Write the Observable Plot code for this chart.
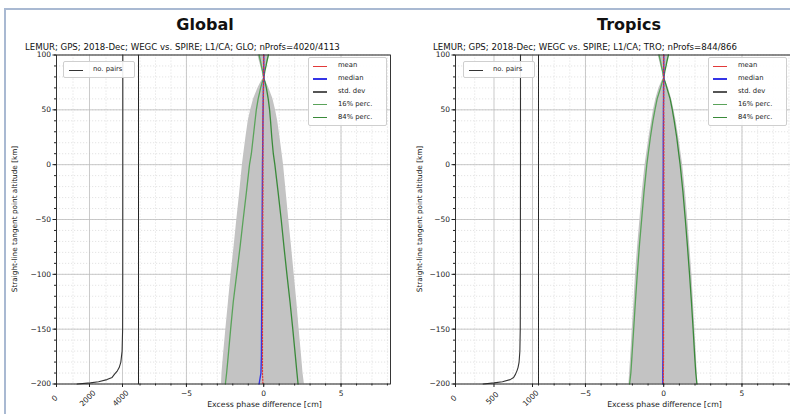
<!DOCTYPE html>
<html><head><meta charset="utf-8">
<script src="https://cdn.jsdelivr.net/npm/d3@7"></script>
<script src="https://cdn.jsdelivr.net/npm/@observablehq/plot@0.6"></script>
<style>
body{margin:0;background:#fff;}
#root{position:relative;width:790px;height:414px;overflow:hidden;background:#fff;font-family:"DejaVu Sans",sans-serif;color:#111;}
#root svg{position:absolute;left:0;top:0;}
.abs{position:absolute;white-space:nowrap;line-height:1;}
.title{font-weight:bold;font-size:16px;transform:translate(-50%,-50%);}
.sub{font-size:8.6px;transform:translateY(-50%);}
.ylab{font-size:7.3px;transform:translate(-50%,-50%) rotate(-90deg);}
.legend{background:rgba(255,255,255,0.9);border:1px solid #cfcfcf;border-radius:2px;}
.leg-row{position:absolute;left:0;right:0;height:10px;}
.leg-line{position:absolute;top:4.5px;height:1.3px;}
.leg-txt{position:absolute;font-size:6.8px;top:1px;color:#222;}
.frameBorder{position:absolute;left:4px;top:8px;right:-4px;bottom:-4px;border-left:2px solid #a9b9d2;border-top:2px solid #a9b9d2;}
</style></head><body><div id="root"><div class="frameBorder"></div></div>
<script>
// ---------- data ----------
const altitudes = [100, 95, 90, 85, 79, 75, 70, 60, 50, 40, 25, 10, 0, -25, -50, -75, -100, -125, -150, -175, -190, -200];

const globalMean   = [0, 0, 0, 0, 0, -0.01, -0.02, -0.03, -0.04, -0.05, -0.05, -0.05, -0.05, -0.05, -0.06, -0.06, -0.07, -0.07, -0.08, -0.08, -0.08, -0.05];
const globalMedian = [0, 0, 0, 0, 0, -0.01, -0.02, -0.03, -0.04, -0.05, -0.06, -0.07, -0.08, -0.09, -0.1, -0.11, -0.12, -0.13, -0.14, -0.15, -0.18, -0.3];
const globalStd    = [0.38, 0.29, 0.2, 0.11, 0.03, 0.18, 0.35, 0.62, 0.8, 0.95, 1.1, 1.24, 1.33, 1.5, 1.68, 1.86, 2.04, 2.21, 2.37, 2.53, 2.62, 2.68];
const globalP16    = [-0.3, -0.22, -0.15, -0.07, 0, -0.1, -0.2, -0.36, -0.48, -0.56, -0.68, -0.8, -0.92, -1.12, -1.33, -1.53, -1.75, -1.97, -2.14, -2.3, -2.4, -2.48];
const globalP84    = [0.3, 0.22, 0.15, 0.07, 0, 0.09, 0.17, 0.29, 0.38, 0.44, 0.52, 0.62, 0.72, 0.93, 1.13, 1.31, 1.5, 1.7, 1.88, 2.05, 2.15, 2.22];

const tropicsMean   = [0, 0, 0, 0, 0, 0, 0, 0, 0, 0.01, 0.01, 0.01, 0.01, 0.01, 0.01, 0, 0, 0, -0.01, -0.01, -0.02, -0.02];
const tropicsMedian = [0, 0, 0, 0, 0, 0, -0.01, -0.01, -0.02, -0.02, -0.03, -0.03, -0.03, -0.04, -0.04, -0.04, -0.05, -0.05, -0.05, -0.05, -0.06, -0.06];
const tropicsStd    = [0.36, 0.27, 0.19, 0.1, 0.03, 0.15, 0.3, 0.5, 0.65, 0.78, 0.95, 1.1, 1.2, 1.38, 1.53, 1.67, 1.8, 1.9, 2.0, 2.1, 2.16, 2.2];
const tropicsP16    = [-0.3, -0.22, -0.15, -0.07, 0, -0.1, -0.2, -0.42, -0.56, -0.69, -0.85, -0.99, -1.08, -1.26, -1.41, -1.56, -1.69, -1.81, -1.92, -2.03, -2.1, -2.18];
const tropicsP84    = [0.3, 0.22, 0.15, 0.07, 0, 0.1, 0.2, 0.41, 0.55, 0.67, 0.83, 0.96, 1.05, 1.23, 1.38, 1.52, 1.65, 1.77, 1.88, 1.98, 2.05, 2.12];

const pairAltitudes = [100, 80, 50, 0, -50, -100, -150, -170, -180, -185, -188, -191, -194, -196, -198, -199, -200];
const globalPairs   = [4020, 4020, 4020, 4019, 4018, 4016, 4008, 3975, 3900, 3800, 3690, 3520, 3370, 3060, 2550, 2050, 1250];
const tropicsPairs  = [844, 844, 844, 844, 843, 843, 841, 836, 826, 812, 798, 780, 755, 710, 610, 500, 360];

const yMajorTicks = [100, 50, 0, -50, -100, -150, -200];
const yMinorTicks = d3.range(-200, 101, 10);
const diffMajorTicks = [-5, 0, 5];
const diffMinorTicks = d3.range(-8, 9, 1);
const globalPairTicks = [0, 2000, 4000];
const globalPairMinor = [1000, 3000];
const tropicsPairTicks = [0, 500, 1000];
const tropicsPairMinor = [250, 750];

const titles = ["Global", "Tropics"];
const subtitles = [
  "LEMUR; GPS; 2018-Dec; WEGC vs. SPIRE; L1/CA; GLO; nProfs=4020/4113",
  "LEMUR; GPS; 2018-Dec; WEGC vs. SPIRE; L1/CA; TRO; nProfs=844/866"
];
const yLabel = "Straight-line tangent point altitude [km]";
const xLabel = "Excess phase difference [cm]";
const legendNames = ["mean", "median", "std. dev", "16% perc.", "84% perc."];
const pairsLegendName = "no. pairs";

// ---------- styles ----------
const C = {mean: "#e23a3a", median: "#3434e6", std: "#555", p16: "#5aa35a", p84: "#3a8a3a", fill: "#c3c3c3", pairs: "#333"};
const legendColors = [C.mean, C.median, C.std, C.p16, C.p84];

const root = document.getElementById("root");
const W = 790, H = 414, TOP = 54.5, BOTTOM = 383.5;

function baseStyle() {
  return {background: "transparent", fontFamily: "DejaVu Sans, sans-serif", fontSize: "7.5px", color: "#222", overflow: "visible"};
}

function gridMarks(xMajor, xMinor) {
  return [
    Plot.gridY({ticks: yMinorTicks, stroke: "#d2d2d2", strokeOpacity: 1, strokeDasharray: "1.2,1.8", strokeWidth: 0.6}),
    Plot.gridX({ticks: xMinor, stroke: "#d2d2d2", strokeOpacity: 1, strokeDasharray: "1.2,1.8", strokeWidth: 0.6}),
    Plot.gridY({ticks: yMajorTicks, stroke: "#bdbdbd", strokeOpacity: 1, strokeWidth: 0.8}),
    Plot.gridX({ticks: xMajor, stroke: "#bdbdbd", strokeOpacity: 1, strokeWidth: 0.8})
  ];
}

function pairsPlot(cfg) {
  const rows = pairAltitudes.map((alt, i) => ({alt, n: cfg.pairs[i]}));
  return Plot.plot({
    width: W, height: H,
    marginLeft: cfg.left, marginRight: W - cfg.right, marginTop: TOP, marginBottom: H - BOTTOM,
    x: {domain: cfg.domain, axis: null},
    y: {domain: [-200, 100], axis: null},
    style: baseStyle(),
    marks: [
      ...gridMarks(cfg.ticks, cfg.minor),
      Plot.lineX(rows, {x: "n", y: "alt", stroke: C.pairs, strokeWidth: 1.1}),
      Plot.axisY({ticks: yMajorTicks, tickSize: 3.5, tickPadding: 2, label: null, fontSize: 7.5}),
      Plot.axisY({ticks: yMinorTicks, tickSize: 2, tickFormat: () => "", label: null}),
      Plot.axisX({ticks: cfg.ticks, tickSize: 3.5, tickFormat: () => "", label: null}),
      Plot.text(cfg.ticks, {x: d => d, frameAnchor: "bottom", dy: 16, rotate: -45, text: d => String(d), fontSize: 7.5, fill: "#222"}),
      Plot.frame({stroke: "#222", strokeWidth: 0.9})
    ]
  });
}

function profilePlot(cfg) {
  const rows = altitudes.map((alt, i) => ({alt, mean: cfg.mean[i], median: cfg.median[i], std: cfg.std[i], p16: cfg.p16[i], p84: cfg.p84[i]}));
  return Plot.plot({
    width: W, height: H,
    marginLeft: cfg.left, marginRight: W - cfg.right, marginTop: TOP, marginBottom: H - BOTTOM,
    x: {domain: cfg.domain, axis: null},
    y: {domain: [-200, 100], axis: null},
    style: baseStyle(),
    marks: [
      ...gridMarks(diffMajorTicks, diffMinorTicks),
      Plot.areaX(rows, {y: "alt", x1: d => d.mean - d.std, x2: d => d.mean + d.std, fill: C.fill}),
      Plot.lineX(rows, {x: "p16", y: "alt", stroke: C.p16, strokeWidth: 1.3}),
      Plot.lineX(rows, {x: "p84", y: "alt", stroke: C.p84, strokeWidth: 1.3}),
      Plot.lineX(rows, {x: "median", y: "alt", stroke: C.median, strokeWidth: 1.4}),
      Plot.lineX(rows, {x: "mean", y: "alt", stroke: C.mean, strokeWidth: 1.2, strokeDasharray: "1.5,1.5"}),
      Plot.axisX({ticks: diffMajorTicks, tickSize: 3.5, tickPadding: 3, label: null, fontSize: 7.5}),
      Plot.axisX({ticks: diffMinorTicks, tickSize: 2, tickFormat: () => "", label: null}),
      Plot.text([xLabel], {frameAnchor: "bottom", dy: 23, fontSize: 7.8, fill: "#222"}),
      Plot.frame({stroke: "#222", strokeWidth: 0.9})
    ]
  });
}

function addDiv(cls, text, css) {
  const d = document.createElement("div");
  d.className = "abs " + cls;
  d.textContent = text;
  Object.assign(d.style, css);
  root.appendChild(d);
  return d;
}

function addLegend(left, top, width, names, colors, lineX0, textX0) {
  const box = document.createElement("div");
  box.className = "abs legend";
  Object.assign(box.style, {left: left + "px", top: top + "px", width: width + "px", height: (names.length * 12.9 + 2) + "px"});
  names.forEach((name, i) => {
    const row = document.createElement("div");
    row.className = "leg-row";
    row.style.top = (3 + i * 12.9) + "px";
    const ln = document.createElement("div");
    ln.className = "leg-line";
    Object.assign(ln.style, {left: lineX0 + "px", width: "14px", background: colors[i]});
    const tx = document.createElement("div");
    tx.className = "leg-txt";
    tx.style.left = textX0 + "px";
    tx.textContent = name;
    row.appendChild(ln); row.appendChild(tx);
    box.appendChild(row);
  });
  root.appendChild(box);
}

const panels = [
  {pairsLeft: 56, pairsRight: 138, pairsDomain: [0, 4970], pairs: globalPairs, ticks: globalPairTicks, minor: globalPairMinor,
   profRight: 390, profDomain: [-8.1, 8.2], mean: globalMean, median: globalMedian, std: globalStd, p16: globalP16, p84: globalP84,
   titleX: 205, subX: 25, ylabX: 15, legX: 308, pairLegX: 63},
  {pairsLeft: 455, pairsRight: 538, pairsDomain: [0, 1078], pairs: tropicsPairs, ticks: tropicsPairTicks, minor: tropicsPairMinor,
   profRight: 790, profDomain: [-8.0, 8.1], mean: tropicsMean, median: tropicsMedian, std: tropicsStd, p16: tropicsP16, p84: tropicsP84,
   titleX: 629, subX: 433, ylabX: 420, legX: 708, pairLegX: 463}
];

panels.forEach((p, k) => {
  root.appendChild(pairsPlot({left: p.pairsLeft, right: p.pairsRight, domain: p.pairsDomain, pairs: p.pairs, ticks: p.ticks, minor: p.minor}));
  root.appendChild(profilePlot({left: p.pairsRight, right: p.profRight, domain: p.profDomain, mean: p.mean, median: p.median, std: p.std, p16: p.p16, p84: p.p84}));
  addDiv("title", titles[k], {left: p.titleX + "px", top: "25px"});
  addDiv("sub", subtitles[k], {left: p.subX + "px", top: "46.5px"});
  addDiv("ylab", yLabel, {left: p.ylabX + "px", top: "219px"});
  addLegend(p.legX, 57, 77, legendNames, legendColors, 4, 29);
  addLegend(p.pairLegX, 61, 70, [pairsLegendName], [C.pairs], 5, 29);
});
</script>
</body></html>
